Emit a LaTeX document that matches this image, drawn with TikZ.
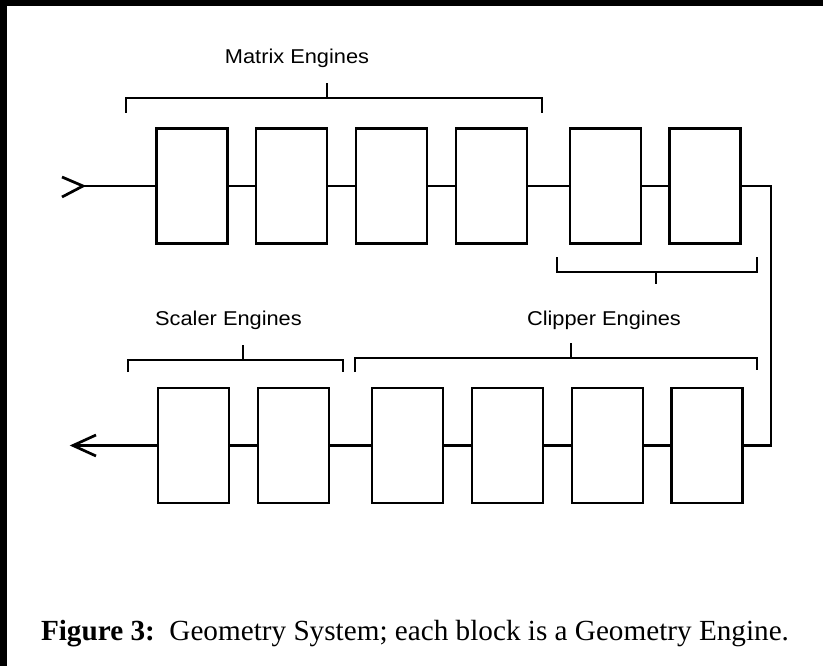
\documentclass[tikz,border=0pt]{standalone}
\usepackage{fontspec}
\setmainfont{Liberation Serif}
\newfontfamily\lblfont[FakeStretch=1.09]{Liberation Sans}
\begin{document}
\begin{tikzpicture}[x=1pt,y=-1pt,
  blk/.style={draw, line width=2.9pt, minimum width=71pt, minimum height=115pt, inner sep=0pt},
  wire/.style={line width=2.7pt},
  brk/.style={line width=2.6pt},
  lbl/.style={font=\lblfont\fontsize{20}{24}\selectfont, inner sep=0pt, anchor=base},
  capt/.style={font=\fontsize{29.2}{34}\selectfont, inner sep=0pt, anchor=base}]
\useasboundingbox (0,0) rectangle (828,666);
\fill[white] (0,0) rectangle (828,666);
\fill[black] (0,0) rectangle (7,666);
\fill[black] (0,0) rectangle (823,6);

% top row
\node[blk] (t1) at (192,186) {};
\node[blk] (t2) at (291.5,186) {};
\node[blk] (t3) at (391.5,186) {};
\node[blk] (t4) at (491.5,186) {};
\node[blk] (t5) at (605.5,186) {};
\node[blk] (t6) at (705,186) {};
% bottom row
\node[blk] (b1) at (193.5,445.5) {};
\node[blk] (b2) at (293.5,445.5) {};
\node[blk] (b3) at (407.5,445.5) {};
\node[blk] (b4) at (507.5,445.5) {};
\node[blk] (b5) at (607.5,445.5) {};
\node[blk] (b6) at (707,445.5) {};

% input / output / return
\coordinate (inp) at (83,186);
\coordinate (out) at (73,445.5);
\coordinate (ret) at (771,186);
\draw[wire] (inp) -- (t1.west);
\draw[wire] (62,177) -- (inp) -- (62,197);
\draw[wire] (t1.east) -- (t2.west);
\draw[wire] (t2.east) -- (t3.west);
\draw[wire] (t3.east) -- (t4.west);
\draw[wire] (t4.east) -- (t5.west);
\draw[wire] (t5.east) -- (t6.west);
\draw[wire] (t6.east) -- (ret) |- (b6.east);
\draw[wire] (b6.west) -- (b5.east);
\draw[wire] (b5.west) -- (b4.east);
\draw[wire] (b4.west) -- (b3.east);
\draw[wire] (b3.west) -- (b2.east);
\draw[wire] (b2.west) -- (b1.east);
\draw[wire] (b1.west) -- (out);
\draw[wire] (96,435) -- (out) -- (96,456);

% brackets
\draw[brk] (126,113) -- (126,98) -- (542,98) -- (542,113);
\draw[brk] (327,98) -- (327,83);
\draw[brk] (557,257) -- (557,272) -- (757,272) -- (757,257);
\draw[brk] (656,272) -- (656,284);
\draw[brk] (128,372) -- (128,360) -- (343,360) -- (343,372);
\draw[brk] (243,360) -- (243,345);
\draw[brk] (355,372) -- (355,358) -- (757,358) -- (757,370);
\draw[brk] (571,358) -- (571,343);

% labels
\node[lbl] (mlab) at (297,64) {Matrix Engines};
\node[lbl] (slab) at (228.5,325) {Scaler Engines};
\node[lbl] (clab) at (604,325) {Clipper Engines};
\node[capt] (cap) at (415,640) {\textbf{Figure 3:}\hspace{0.5em}Geometry System; each block is a Geometry Engine.};
\end{tikzpicture}
\end{document}
